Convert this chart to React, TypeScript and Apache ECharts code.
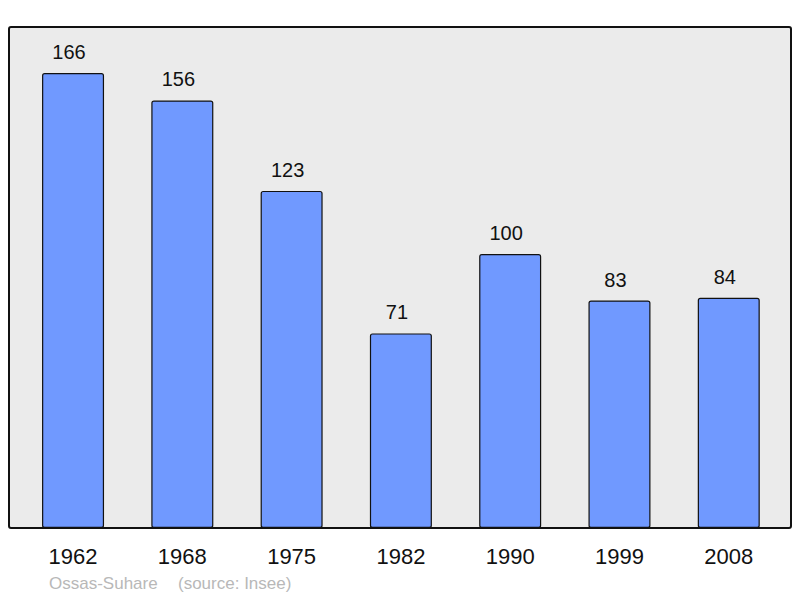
import React, { useEffect, useRef } from "react";
import * as echarts from "echarts";

const years = ["1962", "1968", "1975", "1982", "1990", "1999", "2008"];
const population = [166, 156, 123, 71, 100, 83, 84];
const placeName = "Ossas-Suhare";
const sourceName = "(source: Insee)";

const FONT = "Liberation Sans, Arial, sans-serif";

export default function App() {
  const ref = useRef<HTMLDivElement>(null);
  useEffect(() => {
    if (!ref.current) return;
    const chart = echarts.init(ref.current, null, { renderer: "svg" });
    chart.setOption({
      animation: false,
      textStyle: { fontFamily: FONT },
      grid: { left: 18.4, width: 765, top: 27, bottom: 70, containLabel: false },
      xAxis: {
        type: "category",
        data: years,
        axisLine: { show: false },
        axisTick: { show: false },
        axisLabel: { color: "#111", fontSize: 22, margin: 17, fontFamily: FONT },
      },
      yAxis: {
        type: "value",
        min: 0,
        max: 182.8,
        show: false,
        splitLine: { show: false },
      },
      graphic: [
        {
          type: "rect",
          z: -10,
          silent: true,
          shape: { x: 9, y: 27, width: 782, height: 501, r: 2 },
          style: { fill: "#ebebeb", stroke: "none" },
        },
        {
          type: "rect",
          z: 100,
          silent: true,
          shape: { x: 9, y: 27, width: 782, height: 501, r: 2 },
          style: { fill: "none", stroke: "#111", lineWidth: 2 },
        },
        {
          type: "text",
          left: 49,
          top: 575,
          style: { text: placeName, fill: "#b8b8b8", fontSize: 17, fontFamily: FONT },
        },
        {
          type: "text",
          left: 178,
          top: 575,
          style: { text: sourceName, fill: "#b8b8b8", fontSize: 17, fontFamily: FONT },
        },
      ],
      series: [
        {
          type: "bar",
          data: population,
          barWidth: 62,
          itemStyle: { color: "#7099ff", borderColor: "#111", borderWidth: 1.2, borderRadius: 2 },
          label: {
            show: true,
            position: "top",
            distance: 11,
            offset: [-4, 0],
            color: "#111",
            fontSize: 20,
            fontFamily: FONT,
          },
        },
      ],
    });
    return () => chart.dispose();
  }, []);
  return <div ref={ref} style={{ width: 800, height: 598, position: "absolute", left: 0, top: 0 }} />;
}
